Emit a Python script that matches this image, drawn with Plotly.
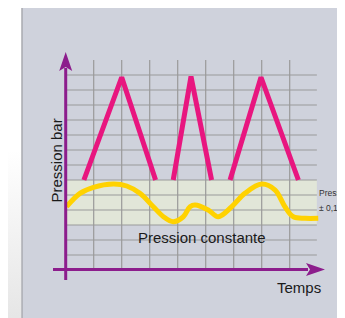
import plotly.graph_objects as go

# ---------------- data ----------------
# pulsed pressure (pink) : three triangular pulses, time / pressure in grid units
pulsed_t = [0.65, 2.0, 3.21, None, 3.84, 4.475, 5.21, None, 5.87, 6.975, 8.31]
pulsed_p = [6.0, 12.85, 6.0, None, 6.0, 12.9, 6.0, None, 6.0, 12.85, 6.0]

# constant pressure (yellow) curve
const_t = [0.03, 0.51, 0.99, 1.70, 2.18, 2.65, 3.13, 3.49, 3.84, 4.20, 4.44, 4.62,
           5.09, 5.45, 5.93, 6.40, 7.00, 7.48, 7.83, 8.13, 8.55, 9.02]
const_p = [4.22, 5.11, 5.51, 5.73, 5.60, 5.11, 4.22, 3.55, 3.22, 3.55, 4.22, 4.33,
           4.00, 3.55, 4.22, 5.11, 5.73, 5.33, 4.22, 3.55, 3.45, 3.45]

# tolerance band (pressure ± 0,1 bar) and grid
band = [3.0, 6.0]
grid_t = [1, 2, 3, 4, 5, 6, 7, 8]
grid_p = [1, 2, 3, 4, 5, 6, 7, 8, 9, 10, 11, 12, 13]
grid_t_max = 8.97
grid_p_max = 14.0

y_label = "Pression bar"
x_label = "Temps"
curve_label = "Pression constante"
band_label = ["Pression", "± 0,1 bar"]

# ---------------- figure ----------------
W, H = 345, 318
OFF = 8                       # the page body margin
X0, Y0, SX, SY = 65.7, 270.0, 28.0, 15.0   # page-pixel origin and pixels per unit


def ux(px):
    return (px - X0) / SX


def uy(py):
    return (Y0 - py) / SY


def paper_x(px):
    return (px - OFF) / W


PURPLE = "#8c1d8c"
PINK = "#e8167f"
YELLOW = "#ffd200"
GRID = "#9a9a9a"
PANEL = "#cfd2dc"
BAND = "#e1e6d8"

fig = go.Figure()

# bottom-left soft shading of the page
fig.add_trace(go.Scatter(
    x=[ux(8), ux(21), ux(21), ux(8), ux(8)],
    y=[uy(150), uy(150), uy(330), uy(330), uy(150)],
    mode="none", fill="toself",
    fillgradient=dict(type="vertical", colorscale=[[0, "#e4e4e4"], [1, "#ffffff"]]),
    hoverinfo="skip", showlegend=False))

fig.add_trace(go.Scatter(
    x=pulsed_t, y=pulsed_p, mode="lines",
    line=dict(color=PINK, width=5), hoverinfo="skip", showlegend=False))

fig.add_trace(go.Scatter(
    x=const_t, y=const_p, mode="lines",
    line=dict(color=YELLOW, width=5, shape="spline", smoothing=1.0),
    hoverinfo="skip", showlegend=False))

shapes = []
# panel
shapes.append(dict(type="rect", xref="paper", yref="paper",
                   x0=paper_x(22), x1=1.02, y0=-0.02, y1=1.02,
                   fillcolor=PANEL, line=dict(color="#a9abb0", width=1.5), layer="below"))
# band
shapes.append(dict(type="rect", xref="x", yref="y",
                   x0=0, x1=grid_t_max, y0=band[0], y1=band[1],
                   fillcolor=BAND, line=dict(width=0), layer="below"))
# grid
for t in grid_t:
    shapes.append(dict(type="line", xref="x", yref="y", x0=t, x1=t, y0=0, y1=grid_p_max,
                       line=dict(color=GRID, width=1.2), layer="below"))
for p in grid_p:
    shapes.append(dict(type="line", xref="x", yref="y", x0=0, x1=grid_t_max, y0=p, y1=p,
                       line=dict(color=GRID, width=1.2), layer="below"))

# axes with arrow heads
shapes.append(dict(type="line", xref="x", yref="y", x0=0, x1=0, y0=uy(280), y1=uy(68),
                   line=dict(color=PURPLE, width=3), layer="above"))
shapes.append(dict(type="line", xref="x", yref="y", x0=ux(53), x1=ux(308), y0=uy(269.5), y1=uy(269.5),
                   line=dict(color=PURPLE, width=3), layer="above"))
hx0, hy_base, hy_tip = 0.0, uy(71), uy(52)
hw = 6.5 / SX
shapes.append(dict(type="path", xref="x", yref="y",
                   path=f"M {hx0 - hw} {hy_base} L {hx0} {hy_tip} L {hx0 + hw} {hy_base} L {hx0} {uy(67)} Z",
                   fillcolor=PURPLE, line=dict(width=0), layer="above"))
ax_base, ax_tip, ay = ux(306), ux(325), uy(269.5)
hh = 6.5 / SY
shapes.append(dict(type="path", xref="x", yref="y",
                   path=f"M {ax_base} {ay + hh} L {ax_tip} {ay} L {ax_base} {ay - hh} L {ux(310)} {ay} Z",
                   fillcolor=PURPLE, line=dict(width=0), layer="above"))

FONT = "Liberation Sans Narrow, Arial Narrow, Liberation Sans, Arial, sans-serif"
annotations = [
    dict(x=ux(56), y=uy(160.5), xref="x", yref="y", text=y_label, textangle=-90,
         showarrow=False, font=dict(family=FONT, size=15, color="#1a1a1a"),
         xanchor="center", yanchor="middle"),
    dict(x=ux(201.7), y=uy(237), xref="x", yref="y", text=curve_label,
         showarrow=False, font=dict(family=FONT, size=15, color="#1a1a1a"),
         xanchor="center", yanchor="middle"),
    dict(x=ux(298.7), y=uy(287), xref="x", yref="y", text=x_label,
         showarrow=False, font=dict(family=FONT, size=15, color="#1a1a1a"),
         xanchor="center", yanchor="middle"),
    dict(x=ux(317), y=uy(193), xref="x", yref="y", text=band_label[0],
         showarrow=False, font=dict(family=FONT, size=8.5, color="#333333"),
         xanchor="left", yanchor="middle"),
    dict(x=ux(317), y=uy(207.5), xref="x", yref="y", text=band_label[1],
         showarrow=False, font=dict(family=FONT, size=8.5, color="#333333"),
         xanchor="left", yanchor="middle"),
]

fig.update_layout(
    width=W, height=H, autosize=False,
    margin=dict(l=0, r=0, t=0, b=0),
    paper_bgcolor="white", plot_bgcolor="rgba(0,0,0,0)",
    xaxis=dict(range=[ux(OFF), ux(OFF + W)], visible=False, fixedrange=True),
    yaxis=dict(range=[uy(OFF + H), uy(OFF)], visible=False, fixedrange=True),
    shapes=shapes, annotations=annotations, showlegend=False,
)

fig.write_html("out.html")
